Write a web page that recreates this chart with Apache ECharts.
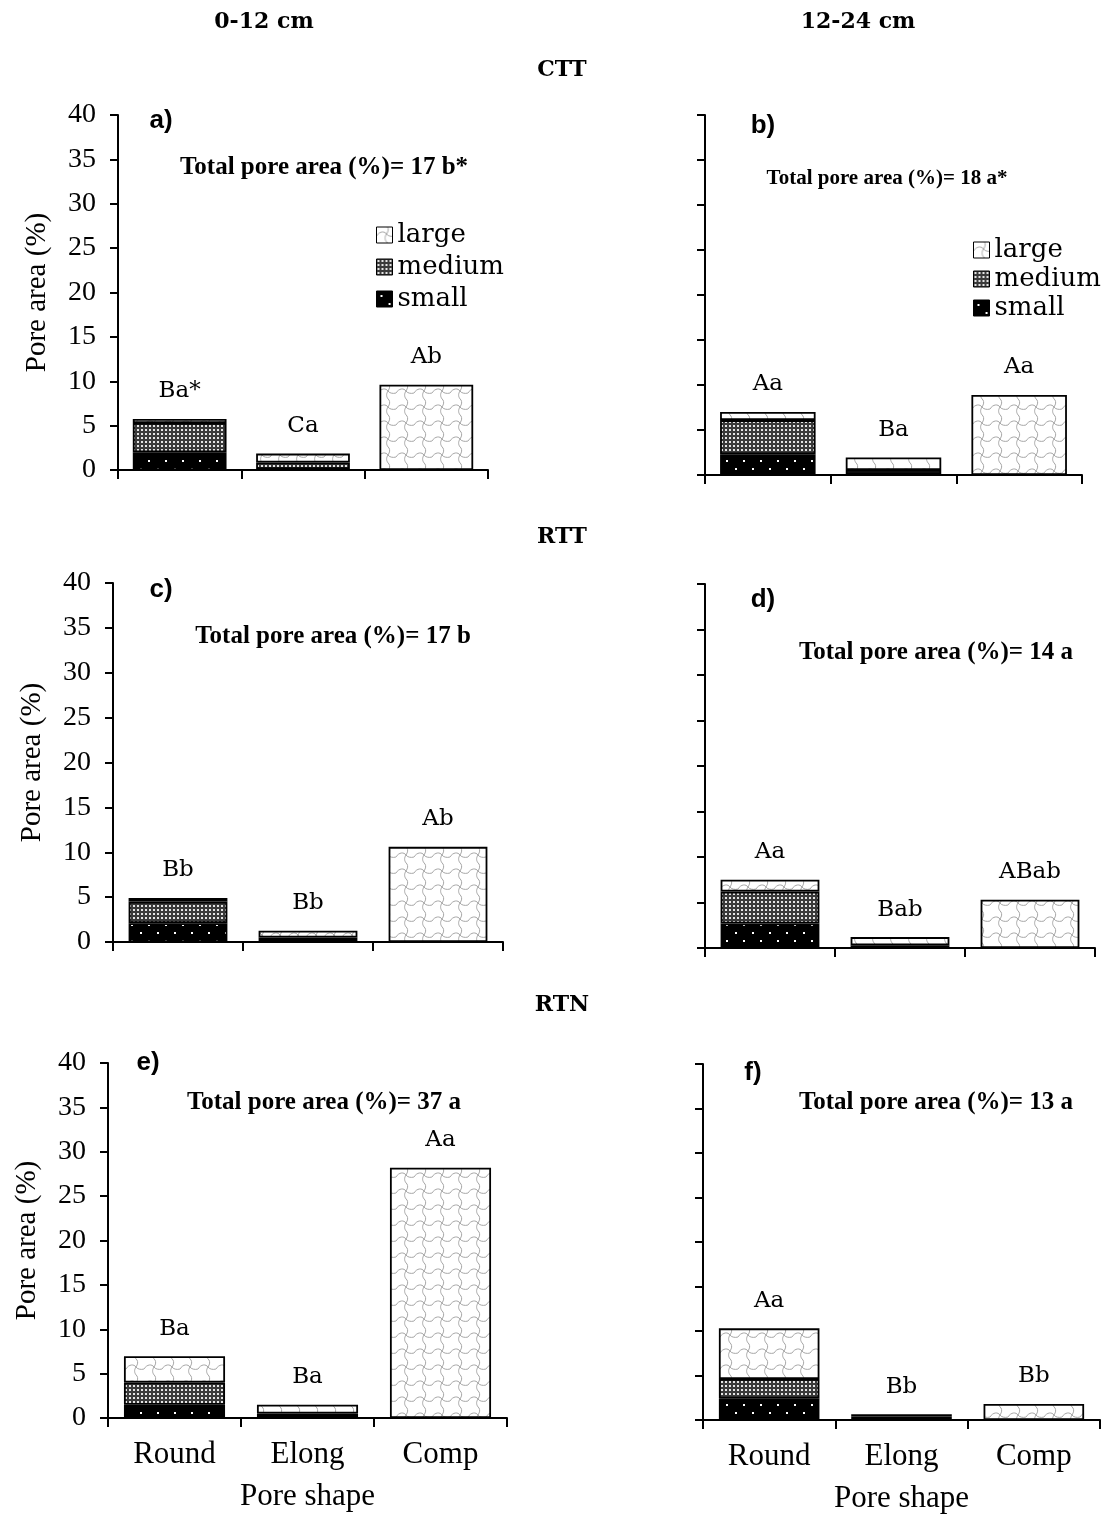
<!DOCTYPE html>
<html>
<head>
<meta charset="utf-8">
<script src="https://cdn.jsdelivr.net/npm/echarts@6/dist/echarts.min.js"></script>
<style>
html,body{margin:0;padding:0;background:#fff}
#chart{width:1108px;height:1517px}
</style>
</head>
<body>
<div id="chart"></div>
<script>
// Pore shape categories
const shapes = ['Round', 'Elong', 'Comp'];

// Pore area (%) by size class, one set per panel
const smallA  = [2.0, 0.1, 0];
const mediumA = [3.3, 0.75, 0];
const largeA  = [0.45, 1.0, 9.6];

const smallB  = [2.3, 0.1, 0];
const mediumB = [3.8, 0.45, 0];
const largeB  = [0.9, 1.4, 8.9];

const smallC  = [2.1, 0.1, 0];
const mediumC = [2.4, 0.4, 0];
const largeC  = [0.4, 0.75, 10.6];

const smallD  = [2.7, 0.1, 0];
const mediumD = [3.5, 0.2, 0];
const largeD  = [1.3, 0.9, 5.3];

const smallE  = [1.5, 0.1, 0];
const mediumE = [2.5, 0.4, 0];
const largeE  = [2.95, 1.0, 28.2];

const smallF  = [2.4, 0.1, 0];
const mediumF = [2.2, 0.3, 0];
const largeF  = [5.7, 0.25, 1.8];

// Significance letters above each bar
const lettersA = ['Ba*', 'Ca', 'Ab'];
const lettersB = ['Aa', 'Ba', 'Aa'];
const lettersC = ['Bb', 'Bb', 'Ab'];
const lettersD = ['Aa', 'Bab', 'ABab'];
const lettersE = ['Ba', 'Ba', 'Aa'];
const lettersF = ['Aa', 'Bb', 'Bb'];

// Total pore area per panel
const totals = ['17 b*', '18 a*', '17 b', '14 a', '37 a', '13 a'];
const panelTags = ['a)', 'b)', 'c)', 'd)', 'e)', 'f)'];
const depthTitles = ['0-12 cm', '12-24 cm'];
const tillageTitles = ['CTT', 'RTT', 'RTN'];
const sizeClasses = ['small', 'medium', 'large'];

// y axis scale (%)
const yMin = 0, yMax = 40, yStep = 5;

const panels = [
  { small: smallA, medium: mediumA, large: largeA, letters: lettersA },
  { small: smallB, medium: mediumB, large: largeB, letters: lettersB },
  { small: smallC, medium: mediumC, large: largeC, letters: lettersC },
  { small: smallD, medium: mediumD, large: largeD, letters: lettersD },
  { small: smallE, medium: mediumE, large: largeE, letters: lettersE },
  { small: smallF, medium: mediumF, large: largeF, letters: lettersF }
];

// ---- fill patterns ----
function tile(w, h, draw) {
  const c = document.createElement('canvas');
  c.width = w; c.height = h;
  draw(c.getContext('2d'));
  return c;
}
const smallTile = tile(17, 16, g => {
  g.fillStyle = '#000'; g.fillRect(0, 0, 17, 16);
  g.fillStyle = '#fff';
  g.fillRect(4, 4, 2, 2);
  g.fillRect(12, 12, 2, 2);
});
const mediumTile = tile(4, 4, g => {
  g.fillStyle = '#3a3a3a'; g.fillRect(0, 0, 4, 4);
  g.fillStyle = '#e4e4e4'; g.fillRect(1, 1, 2, 2);
});
const largeTile = tile(18, 16, g => {
  g.fillStyle = '#fff'; g.fillRect(0, 0, 18, 16);
  g.strokeStyle = '#a6a6a6'; g.lineWidth = 1;
  g.beginPath();
  g.moveTo(0, 9);
  g.bezierCurveTo(3, 4, 8, 4, 10, 7);
  g.bezierCurveTo(11, 9, 15, 10, 18, 9);
  g.stroke();
  g.beginPath();
  g.moveTo(10, 7);
  g.bezierCurveTo(8, 10, 8, 13, 11, 16);
  g.stroke();
  g.beginPath();
  g.moveTo(11, 0);
  g.bezierCurveTo(12, 2, 12, 4, 10, 7);
  g.stroke();
});
const fills = {
  small:  { image: smallTile,  repeat: 'repeat' },
  medium: { image: mediumTile, repeat: 'repeat' },
  large:  { image: largeTile,  repeat: 'repeat' }
};

// ---- layout of the six plots ----
const boxes = [
  { left: 118, top: 115, width: 370, height: 355 },
  { left: 705, top: 115, width: 377, height: 360 },
  { left: 113, top: 583, width: 390, height: 359 },
  { left: 705, top: 584, width: 390, height: 364 },
  { left: 108, top: 1063, width: 399, height: 355 },
  { left: 703, top: 1064, width: 397, height: 356 }
];

const serif = '"Liberation Serif", "Times New Roman", serif';
const wideSerif = '"DejaVu Serif", serif';
const lineStyle = { color: '#000', width: 2 };

const grid = [], xAxis = [], yAxis = [], series = [];
boxes.forEach((b, i) => {
  const leftCol = i % 2 === 0;
  const bottomRow = i >= 4;
  grid.push(Object.assign({ containLabel: false }, b));
  xAxis.push({
    type: 'category', gridIndex: i, data: shapes, boundaryGap: true,
    axisLine: { show: true, lineStyle },
    axisTick: { show: true, length: 9, lineStyle },
    axisLabel: { show: bottomRow, color: '#000', fontFamily: serif, fontSize: 31, margin: 21 },
    name: bottomRow ? 'Pore shape' : '', nameLocation: 'middle', nameGap: 63,
    nameTextStyle: { color: '#000', fontFamily: serif, fontSize: 31 }
  });
  yAxis.push({
    type: 'value', gridIndex: i, min: yMin, max: yMax, interval: yStep,
    splitLine: { show: false },
    axisLine: { show: true, lineStyle },
    axisTick: { show: true, length: 8, lineStyle },
    axisLabel: { show: leftCol, color: '#000', fontFamily: serif, fontSize: 28, margin: 22 },
    name: leftCol ? 'Pore area (%)' : '', nameLocation: 'middle', nameGap: 66,
    nameTextStyle: { color: '#000', fontFamily: serif, fontSize: 29 }
  });
  const p = panels[i];
  sizeClasses.forEach(cls => {
    series.push({
      name: cls, type: 'bar', xAxisIndex: i, yAxisIndex: i, stack: 'panel' + i,
      barCategoryGap: '24%',
      data: p[cls],
      itemStyle: { color: fills[cls], borderColor: '#000', borderWidth: 1.8 },
      label: cls === 'large' ? {
        show: true, position: 'top', distance: 16,
        formatter: prm => p.letters[prm.dataIndex],
        color: '#000', fontFamily: wideSerif, fontSize: 23
      } : { show: false },
      emphasis: { disabled: true },
      animation: false
    });
  });
});

const legendBase = {
  data: ['large', 'medium', 'small'], orient: 'vertical', icon: 'rect',
  itemWidth: 16, itemHeight: 16, selectedMode: false,
  itemStyle: { borderColor: '#000', borderWidth: 1 },
  textStyle: { color: '#000', fontFamily: wideSerif, fontSize: 26 }
};
const legend = [
  Object.assign({}, legendBase, { left: 371, top: 217, itemGap: 6 }),
  Object.assign({}, legendBase, { left: 968, top: 232, itemGap: 3 })
];

// ---- free text: headings, panel tags and totals ----
function txt(x, y, text, size, family, weight) {
  return {
    type: 'text', x, y, silent: true,
    style: { text, fontSize: size, fontFamily: family, fontWeight: weight || 'normal',
      fill: '#000', align: 'center', verticalAlign: 'middle' }
  };
}
const tagPos = [[161, 121], [763, 126], [161, 590], [763, 600], [148, 1063], [753, 1073]];
const totalPos = [[324, 168], [887, 179], [333, 637], [936, 653], [324, 1103], [936, 1103]];
const totalSize = [25, 21, 25, 25, 25, 25];
const graphic = [
  txt(264, 22, depthTitles[0], 22, wideSerif, 'bold'),
  txt(858, 22, depthTitles[1], 22, wideSerif, 'bold'),
  txt(562, 70, tillageTitles[0], 22, wideSerif, 'bold'),
  txt(562, 537, tillageTitles[1], 22, wideSerif, 'bold'),
  txt(562, 1005, tillageTitles[2], 22, wideSerif, 'bold')
];
panelTags.forEach((t, i) => {
  graphic.push(txt(tagPos[i][0], tagPos[i][1], t, 26, '"Liberation Sans", Arial, sans-serif', 'bold'));
  graphic.push(txt(totalPos[i][0], totalPos[i][1], 'Total pore area (%)= ' + totals[i], totalSize[i], serif, 'bold'));
});

const chart = echarts.init(document.getElementById('chart'), null, { renderer: 'canvas' });
chart.setOption({
  backgroundColor: '#fff',
  animation: false,
  grid, xAxis, yAxis, series, legend, graphic
});
</script>
</body>
</html>
